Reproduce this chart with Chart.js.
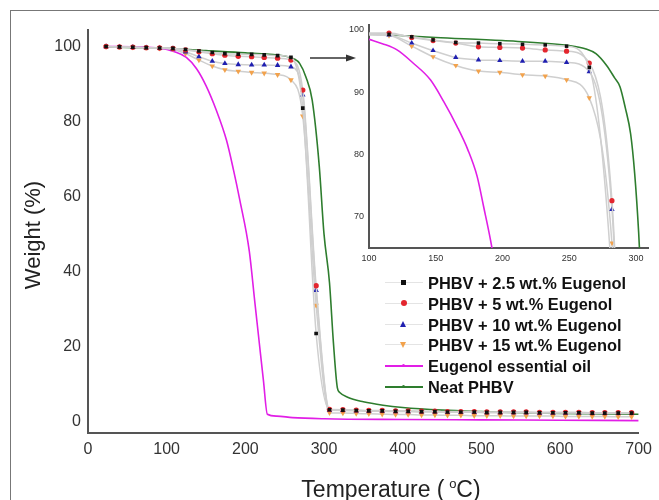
<!DOCTYPE html>
<html>
<head>
<meta charset="utf-8">
<script src="https://cdn.jsdelivr.net/npm/chart.js@4.4.1/dist/chart.umd.min.js"></script>
<style>
  body { margin: 0; background: #fff; font-family: Arial, "Liberation Sans", sans-serif; }
  #page { position: relative; width: 659px; height: 500px; overflow: hidden; }
  #frame { position: absolute; left: 10px; top: 10px; width: 700px; height: 600px;
           border-left: 1.5px solid #777; border-top: 1.5px solid #777; }
  #mainBox { position: absolute; left: 0; top: 0; width: 659px; height: 500px; }
  #insetBox { position: absolute; left: 330px; top: 14px; width: 325px; height: 258px; }
  .title { position: absolute; font-size: 22px; color: #222; white-space: nowrap; }
  .title sup { font-size: 13px; vertical-align: 9px; }
  .row { position: absolute; left: 383px; width: 275px; height: 20px; }
  .row .sym { position: absolute; left: 2px; top: 9px; width: 38px; height: 0; }
  .row .mk { position: absolute; }
  .row .txt { position: absolute; left: 45px; top: 0; font-weight: bold; font-size: 16.4px;
              line-height: 20px; color: #111; white-space: nowrap; }
</style>
</head>
<body>
<div id="page">
  <div id="frame"></div>
  <div id="mainBox"><canvas id="mainChart"></canvas></div>
  <div id="insetBox"><canvas id="insetChart"></canvas></div>
  <svg style="position:absolute;left:0;top:0" width="659" height="500">
    <line x1="310" y1="58" x2="348" y2="58" stroke="#333" stroke-width="1.5"/>
    <polygon points="356,58 346,54.5 346,61.5" fill="#333"/>
  </svg>
  <div class="title" id="yTitle" style="left:33px;top:235px;transform:translate(-50%,-50%) rotate(-90deg)">Weight (%)</div>
  <div class="title" style="left:391px;top:489px;font-size:23px;transform:translate(-50%,-50%)">Temperature (&thinsp;<sup>o</sup>C)</div>
  <div id="legend"></div>
</div>
<script>
//series names
var seriesNames = ["PHBV + 2.5 wt.% Eugenol", "PHBV + 5 wt.% Eugenol", "PHBV + 10 wt.% Eugenol",
  "PHBV + 15 wt.% Eugenol", "Eugenol essential oil", "Neat PHBV"];

//main chart - marker series (temperature in C, weight in %)
var mainTemps = [23, 40, 57, 74, 91, 108, 124, 141, 158, 174, 191, 208, 224, 241, 258, 273, 290,
  307, 324, 341, 357, 374, 391, 407, 424, 441, 457, 474, 491, 507, 524, 541, 557, 574, 591, 607, 624, 641, 657, 674, 691];
var mainEug25 = [99.9, 99.8, 99.7, 99.6, 99.5, 99.4, 99.1, 98.7, 98.3, 98.0, 97.9, 97.8, 97.7, 97.5, 97.0, 83.5, 23.5,
  3.2, 3.1, 3.0, 2.9, 2.9, 2.8, 2.8, 2.7, 2.7, 2.6, 2.6, 2.6, 2.5, 2.5, 2.5, 2.5, 2.4, 2.4, 2.4, 2.4, 2.3, 2.3, 2.3, 2.3];
var mainEug5 = [99.9, 99.8, 99.7, 99.6, 99.5, 99.4, 99.0, 98.5, 98.0, 97.6, 97.3, 97.2, 97.0, 96.8, 96.3, 88.3, 36.2,
  3.3, 3.2, 3.1, 3.0, 3.0, 2.9, 2.9, 2.8, 2.8, 2.7, 2.7, 2.7, 2.6, 2.6, 2.6, 2.6, 2.5, 2.5, 2.5, 2.5, 2.4, 2.4, 2.4, 2.4];
var mainEug10 = [99.9, 99.8, 99.7, 99.6, 99.5, 99.3, 98.5, 97.2, 96.0, 95.4, 95.1, 95.0, 95.0, 94.9, 94.5, 87.0, 35.0,
  3.1, 3.0, 2.9, 2.8, 2.8, 2.7, 2.7, 2.6, 2.6, 2.5, 2.5, 2.5, 2.4, 2.4, 2.4, 2.4, 2.3, 2.3, 2.3, 2.3, 2.2, 2.2, 2.2, 2.2];
var mainEug15 = [99.9, 99.8, 99.7, 99.6, 99.4, 99.2, 98.0, 96.3, 94.7, 93.7, 93.3, 93.0, 92.8, 92.4, 91.0, 81.4, 31.0,
  2.4, 2.3, 2.2, 2.1, 2.0, 1.9, 1.9, 1.8, 1.8, 1.7, 1.7, 1.6, 1.6, 1.6, 1.5, 1.5, 1.5, 1.5, 1.4, 1.4, 1.4, 1.4, 1.3, 1.3];

//main chart - eugenol oil curve
var oilTemps = [25, 60, 90, 110, 125, 138, 150, 163, 176, 185, 193, 205, 212, 218, 223, 228, 240, 260, 300, 400, 500, 600, 700];
var oilWeight = [99.9, 99.8, 99.5, 98.5, 97.0, 94.0, 89.5, 83.0, 75.0, 67.0, 59.0, 45.5, 32.0, 20.5, 11.0, 2.0, 1.5, 1.1, 0.8, 0.6, 0.5, 0.4, 0.3];

//main chart - neat PHBV curve
var neatTemps = [25, 100, 150, 200, 250, 262, 269, 277, 285, 294, 300, 307, 312, 317, 320, 330, 350, 375, 400, 450, 500, 550, 600, 650, 700];
var neatWeight = [99.8, 99.4, 98.8, 98.2, 97.4, 96.6, 95.4, 91.8, 85.6, 68.0, 50.0, 37.0, 21.0, 9.0, 7.8, 6.5, 5.3, 4.4, 3.8, 3.1, 2.7, 2.4, 2.2, 2.1, 2.0];

//inset (100-300 C zoom)
var insetTemps = [100, 115, 132, 148, 165, 182, 198, 215, 232, 248, 265, 282, 290];
var insetEug25 = [99.4, 99.3, 98.9, 98.4, 98.0, 97.9, 97.8, 97.7, 97.6, 97.4, 94.0, 60.0, 24.0];
var insetEug5 = [99.5, 99.5, 98.8, 98.3, 97.9, 97.3, 97.2, 97.1, 96.8, 96.6, 94.7, 72.6, 36.0];
var insetEug10 = [99.3, 99.2, 97.9, 96.7, 95.6, 95.2, 95.1, 95.0, 95.0, 94.8, 93.3, 71.2, 35.0];
var insetEug15 = [99.2, 99.1, 97.4, 95.7, 94.3, 93.4, 93.2, 92.8, 92.6, 92.0, 89.1, 65.8, 31.0];
var insetOilTemps = [100, 110, 121, 133, 146, 156, 166, 174, 181, 186, 191, 200];
var insetOilWeight = [98.5, 97.8, 96.8, 94.7, 92.0, 88.5, 84.5, 80.8, 76.5, 71.5, 66.3, 55.0];
var insetNeatTemps = [100, 150, 200, 250, 262, 270, 278, 284, 288, 292, 296, 299, 302, 306];
var insetNeatWeight = [99.4, 98.8, 98.3, 97.5, 97.0, 96.2, 94.3, 92.3, 90.9, 87.5, 83.3, 77.0, 67.5, 50.0];

//tick labels
var mainXTicks = [0, 100, 200, 300, 400, 500, 600, 700];
var mainYTicks = [0, 20, 40, 60, 80, 100];
var insetXTicks = [100, 150, 200, 250, 300];
var insetYTicks = [70, 80, 90, 100];

var markerColors = ["#111111", "#e3262e", "#1f1fb0", "#f2a24c"];
var markerStyles = ["rect", "circle", "triangle", "triangle"];
var markerRot = [0, 0, 0, 180];
var lineGray = "#cfcfcf";
var oilColor = "#e11ee6";
var neatColor = "#2e7d2e";

function pts(xs, ys) {
  return xs.map(function (x, i) { return { x: x, y: ys[i] }; });
}

function markerSet(label, xs, ys, k, radius, hideFirst) {
  return {
    label: label,
    data: pts(xs, ys),
    borderColor: lineGray,
    borderWidth: 1.5,
    backgroundColor: markerColors[k],
    pointBackgroundColor: markerColors[k],
    pointBorderColor: markerColors[k],
    pointBorderWidth: 0,
    pointStyle: markerStyles[k],
    rotation: markerRot[k],
    pointRadius: function (c) { return hideFirst && c.dataIndex === 0 ? 0 : (k >= 2 ? radius + 0.6 : radius); },
    cubicInterpolationMode: "monotone",
  };
}

function curveSet(label, xs, ys, color) {
  return {
    label: label,
    data: pts(xs, ys),
    borderColor: color,
    backgroundColor: color,
    borderWidth: 1.6,
    pointRadius: 0,
    cubicInterpolationMode: "monotone",
  };
}

function axes(xMin, xMax, yMin, yMax, xTicks, yTicks, yWidth, xHeight, fontSize, pad) {
  return {
    x: {
      type: "linear", min: xMin, max: xMax,
      grid: { display: false, drawTicks: false },
      border: { display: true, color: "#555", width: 2 },
      ticks: { font: { size: fontSize, family: "Arial" }, color: "#333", padding: pad, maxRotation: 0 },
      afterBuildTicks: function (s) { s.ticks = xTicks.map(function (v) { return { value: v }; }); },
      afterFit: function (s) { s.height = xHeight; },
    },
    y: {
      min: yMin, max: yMax,
      grid: { display: false, drawTicks: false },
      border: { display: true, color: "#555", width: 2 },
      ticks: { font: { size: fontSize, family: "Arial" }, color: "#333", padding: pad },
      afterBuildTicks: function (s) { s.ticks = yTicks.map(function (v) { return { value: v }; }); },
      afterFit: function (s) { s.width = yWidth; },
    },
  };
}

var commonPlugins = { legend: { display: false }, tooltip: { enabled: false } };

//main chart
new Chart(document.getElementById("mainChart"), {
  type: "line",
  data: {
    datasets: [
      markerSet(seriesNames[0], mainTemps, mainEug25, 0, 2.6, false),
      markerSet(seriesNames[1], mainTemps, mainEug5, 1, 2.7, false),
      markerSet(seriesNames[2], mainTemps, mainEug10, 2, 2.6, false),
      markerSet(seriesNames[3], mainTemps, mainEug15, 3, 2.6, false),
      curveSet(seriesNames[4], oilTemps, oilWeight, oilColor),
      curveSet(seriesNames[5], neatTemps, neatWeight, neatColor),
    ],
  },
  options: {
    responsive: true,
    maintainAspectRatio: false,
    animation: false,
    layout: { padding: { left: 0, top: 30, right: 19, bottom: 0 } },
    scales: axes(0, 700, -3, 104.3, mainXTicks, mainYTicks, 88, 67, 16, 7),
    plugins: commonPlugins,
  },
});

//inset chart
new Chart(document.getElementById("insetChart"), {
  type: "line",
  data: {
    datasets: [
      markerSet(seriesNames[0], insetTemps, insetEug25, 0, 2.5, true),
      markerSet(seriesNames[1], insetTemps, insetEug5, 1, 2.6, true),
      markerSet(seriesNames[2], insetTemps, insetEug10, 2, 2.5, true),
      markerSet(seriesNames[3], insetTemps, insetEug15, 3, 2.5, true),
      curveSet(seriesNames[4], insetOilTemps, insetOilWeight, oilColor),
      curveSet(seriesNames[5], insetNeatTemps, insetNeatWeight, neatColor),
    ],
  },
  options: {
    responsive: true,
    maintainAspectRatio: false,
    animation: false,
    layout: { padding: { left: 0, top: 11, right: 7, bottom: 0 } },
    scales: axes(100, 309, 65, 100.8, insetXTicks, insetYTicks, 39, 24, 9, 5),
    plugins: commonPlugins,
  },
});

//legend (line + marker like the original)
var legend = document.getElementById("legend");
seriesNames.forEach(function (name, i) {
  var row = document.createElement("div");
  row.className = "row";
  row.style.top = (273 + i * 20.8) + "px";
  var sym = document.createElement("div");
  sym.className = "sym";
  var mk = document.createElement("div");
  mk.className = "mk";
  if (i < 4) {
    sym.style.borderTop = "1px solid #e4e4e4";
    var c = markerColors[i];
    if (i === 0) { mk.style.cssText = "left:18px;top:7px;width:5px;height:5px;background:" + c; }
    if (i === 1) { mk.style.cssText = "left:17.5px;top:6.5px;width:6px;height:6px;border-radius:50%;background:" + c; }
    if (i === 2) { mk.style.cssText = "left:17px;top:6px;width:0;height:0;border-left:3.5px solid transparent;border-right:3.5px solid transparent;border-bottom:6px solid " + c; }
    if (i === 3) { mk.style.cssText = "left:17px;top:7px;width:0;height:0;border-left:3.5px solid transparent;border-right:3.5px solid transparent;border-top:6px solid " + c; }
  } else {
    var col = i === 4 ? oilColor : neatColor;
    sym.style.borderTop = "2px solid " + col;
    mk.style.cssText = "left:19px;top:8px;width:3px;height:3px;border-radius:50%;background:" + col;
  }
  var txt = document.createElement("div");
  txt.className = "txt";
  txt.textContent = name;
  row.appendChild(sym);
  row.appendChild(mk);
  row.appendChild(txt);
  legend.appendChild(row);
});
</script>
</body>
</html>
